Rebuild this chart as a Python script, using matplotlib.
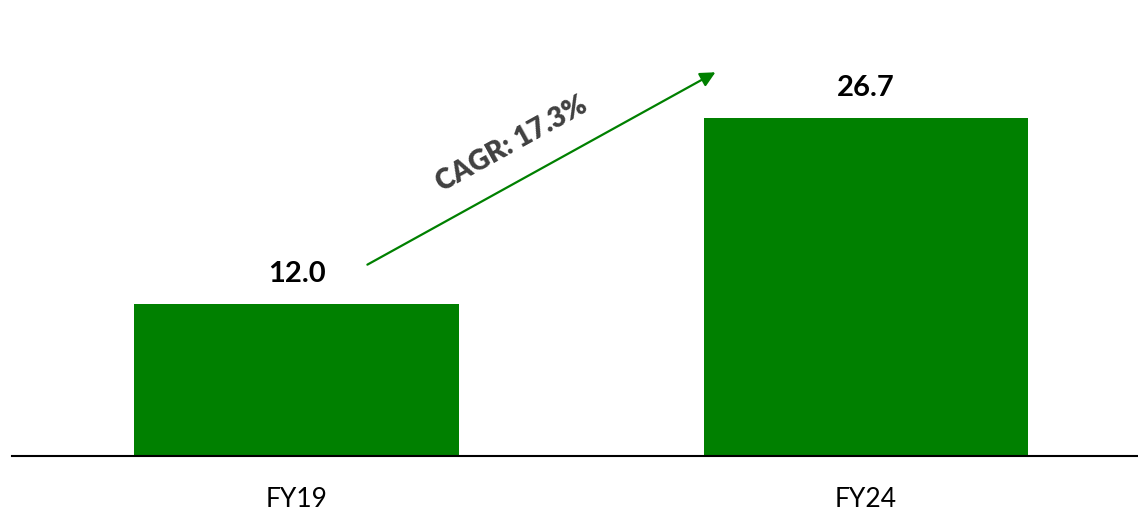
import matplotlib
matplotlib.use("Agg")
import matplotlib.pyplot as plt

categories = ["FY19", "FY24"]
values = [12.0, 26.7]
cagr_label = "CAGR: 17.3%"

bar_color = "#008000"

plt.rcParams['font.family'] = ['Lato', 'DejaVu Sans']

fig = plt.figure(figsize=(11.38, 5.12), dpi=100)
ax = fig.add_axes([12/1138, 56/512, 1126/1138, 456/512])

x = list(range(len(categories)))
bars = ax.bar(x, values, width=0.57, color=bar_color)

for xi, v in zip(x, values):
    ax.text(xi, v + 1.35, f"{v:.1f}", ha="center", va="bottom",
            fontsize=21, fontweight="bold", color="black")

ax.set_xlim(-0.5, 1.478)
ax.set_ylim(0, 36.0)

ax.annotate("", xy=(0.74, 30.4), xytext=(0.12, 15.0),
            arrowprops=dict(arrowstyle="-|>,head_length=0.9,head_width=0.45",
                            color=bar_color, lw=1.6))
ax.text(0.378, 24.6, cagr_label, rotation=29, ha="center", va="center",
        fontsize=20, fontweight="heavy", color="#404040", rotation_mode="anchor")

ax.set_xticks(x)
ax.set_xticklabels(categories, fontsize=19, color="black")
ax.tick_params(axis="x", length=0, pad=22)
ax.set_yticks([])
for s in ["top", "right", "left"]:
    ax.spines[s].set_visible(False)
ax.spines["bottom"].set_linewidth(1.5)
ax.spines["bottom"].set_color("black")

fig.savefig("out.png", dpi=100)
